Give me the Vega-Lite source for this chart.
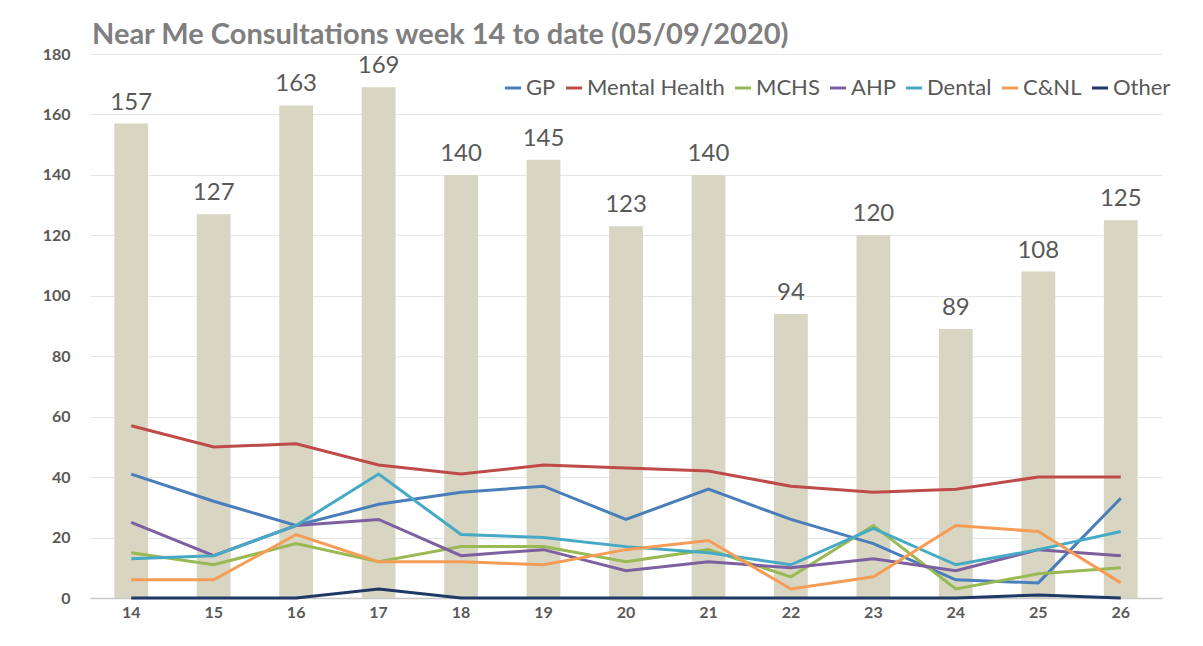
{
  "$schema": "https://vega.github.io/schema/vega-lite/v6.json",
  "autosize": {"type": "none"},
  "width": 1072,
  "height": 544,
  "padding": {"left": 90, "top": 54, "right": 41, "bottom": 48},
  "background": "white",
  "title": {
    "text": "Near Me Consultations week 14 to date (05/09/2020)",
    "anchor": "start",
    "frame": "group",
    "orient": "top",
    "offset": 8,
    "dx": 2,
    "dy": 12,
    "font": "Lato",
    "fontSize": 29,
    "fontWeight": "bold",
    "color": "#7f7f7f"
  },
  "config": {
    "view": {"stroke": null},
    "font": "Lato"
  },
  "datasets": {
    "totals": [
      {"week": "14", "total": 157}, {"week": "15", "total": 127}, {"week": "16", "total": 163},
      {"week": "17", "total": 169}, {"week": "18", "total": 140}, {"week": "19", "total": 145},
      {"week": "20", "total": 123}, {"week": "21", "total": 140}, {"week": "22", "total": 94},
      {"week": "23", "total": 120}, {"week": "24", "total": 89}, {"week": "25", "total": 108},
      {"week": "26", "total": 125}
    ],
    "series": [
      {"week": "14", "service": "GP", "value": 41}, {"week": "15", "service": "GP", "value": 32},
      {"week": "16", "service": "GP", "value": 24}, {"week": "17", "service": "GP", "value": 31},
      {"week": "18", "service": "GP", "value": 35}, {"week": "19", "service": "GP", "value": 37},
      {"week": "20", "service": "GP", "value": 26}, {"week": "21", "service": "GP", "value": 36},
      {"week": "22", "service": "GP", "value": 26}, {"week": "23", "service": "GP", "value": 18},
      {"week": "24", "service": "GP", "value": 6}, {"week": "25", "service": "GP", "value": 5},
      {"week": "26", "service": "GP", "value": 33},
      {"week": "14", "service": "Mental Health", "value": 57}, {"week": "15", "service": "Mental Health", "value": 50},
      {"week": "16", "service": "Mental Health", "value": 51}, {"week": "17", "service": "Mental Health", "value": 44},
      {"week": "18", "service": "Mental Health", "value": 41}, {"week": "19", "service": "Mental Health", "value": 44},
      {"week": "20", "service": "Mental Health", "value": 43}, {"week": "21", "service": "Mental Health", "value": 42},
      {"week": "22", "service": "Mental Health", "value": 37}, {"week": "23", "service": "Mental Health", "value": 35},
      {"week": "24", "service": "Mental Health", "value": 36}, {"week": "25", "service": "Mental Health", "value": 40},
      {"week": "26", "service": "Mental Health", "value": 40},
      {"week": "14", "service": "MCHS", "value": 15}, {"week": "15", "service": "MCHS", "value": 11},
      {"week": "16", "service": "MCHS", "value": 18}, {"week": "17", "service": "MCHS", "value": 12},
      {"week": "18", "service": "MCHS", "value": 17}, {"week": "19", "service": "MCHS", "value": 17},
      {"week": "20", "service": "MCHS", "value": 12}, {"week": "21", "service": "MCHS", "value": 16},
      {"week": "22", "service": "MCHS", "value": 7}, {"week": "23", "service": "MCHS", "value": 24},
      {"week": "24", "service": "MCHS", "value": 3}, {"week": "25", "service": "MCHS", "value": 8},
      {"week": "26", "service": "MCHS", "value": 10},
      {"week": "14", "service": "AHP", "value": 25}, {"week": "15", "service": "AHP", "value": 14},
      {"week": "16", "service": "AHP", "value": 24}, {"week": "17", "service": "AHP", "value": 26},
      {"week": "18", "service": "AHP", "value": 14}, {"week": "19", "service": "AHP", "value": 16},
      {"week": "20", "service": "AHP", "value": 9}, {"week": "21", "service": "AHP", "value": 12},
      {"week": "22", "service": "AHP", "value": 10}, {"week": "23", "service": "AHP", "value": 13},
      {"week": "24", "service": "AHP", "value": 9}, {"week": "25", "service": "AHP", "value": 16},
      {"week": "26", "service": "AHP", "value": 14},
      {"week": "14", "service": "Dental", "value": 13}, {"week": "15", "service": "Dental", "value": 14},
      {"week": "16", "service": "Dental", "value": 24}, {"week": "17", "service": "Dental", "value": 41},
      {"week": "18", "service": "Dental", "value": 21}, {"week": "19", "service": "Dental", "value": 20},
      {"week": "20", "service": "Dental", "value": 17}, {"week": "21", "service": "Dental", "value": 15},
      {"week": "22", "service": "Dental", "value": 11}, {"week": "23", "service": "Dental", "value": 23},
      {"week": "24", "service": "Dental", "value": 11}, {"week": "25", "service": "Dental", "value": 16},
      {"week": "26", "service": "Dental", "value": 22},
      {"week": "14", "service": "C&NL", "value": 6}, {"week": "15", "service": "C&NL", "value": 6},
      {"week": "16", "service": "C&NL", "value": 21}, {"week": "17", "service": "C&NL", "value": 12},
      {"week": "18", "service": "C&NL", "value": 12}, {"week": "19", "service": "C&NL", "value": 11},
      {"week": "20", "service": "C&NL", "value": 16}, {"week": "21", "service": "C&NL", "value": 19},
      {"week": "22", "service": "C&NL", "value": 3}, {"week": "23", "service": "C&NL", "value": 7},
      {"week": "24", "service": "C&NL", "value": 24}, {"week": "25", "service": "C&NL", "value": 22},
      {"week": "26", "service": "C&NL", "value": 5},
      {"week": "14", "service": "Other", "value": 0}, {"week": "15", "service": "Other", "value": 0},
      {"week": "16", "service": "Other", "value": 0}, {"week": "17", "service": "Other", "value": 3},
      {"week": "18", "service": "Other", "value": 0}, {"week": "19", "service": "Other", "value": 0},
      {"week": "20", "service": "Other", "value": 0}, {"week": "21", "service": "Other", "value": 0},
      {"week": "22", "service": "Other", "value": 0}, {"week": "23", "service": "Other", "value": 0},
      {"week": "24", "service": "Other", "value": 0}, {"week": "25", "service": "Other", "value": 1},
      {"week": "26", "service": "Other", "value": 0}
    ]
  },
  "encoding": {
    "x": {
      "field": "week",
      "type": "ordinal",
      "scale": {"paddingInner": 0.59, "paddingOuter": 0.295},
      "axis": {
        "title": null,
        "labelAngle": 0,
        "labelFont": "Lato",
        "labelFontSize": 16,
        "labelFontWeight": "bold",
        "labelColor": "#595959",
        "labelPadding": 6,
        "ticks": false,
        "domain": true,
        "domainColor": "#c8c8c8",
        "domainWidth": 1.5
      }
    }
  },
  "layer": [
    {
      "data": {"name": "totals"},
      "mark": {"type": "bar", "color": "#d8d6c3"},
      "encoding": {
        "y": {
          "field": "total",
          "type": "quantitative",
          "scale": {"domain": [0, 180], "nice": false},
          "axis": {
            "title": null,
            "values": [0, 20, 40, 60, 80, 100, 120, 140, 160, 180],
            "labelFont": "Lato",
            "labelFontSize": 16,
            "labelFontWeight": "bold",
            "labelColor": "#595959",
            "labelPadding": 20,
            "ticks": false,
            "domain": false,
            "grid": true,
            "gridColor": "#e6e6e6",
            "gridWidth": 1
          }
        }
      }
    },
    {
      "data": {"name": "totals"},
      "mark": {"type": "text", "dy": -14, "baseline": "alphabetic", "font": "Lato", "fontSize": 24, "color": "#595959"},
      "encoding": {
        "y": {"field": "total", "type": "quantitative"},
        "text": {"field": "total", "type": "quantitative"}
      }
    },
    {
      "data": {"name": "series"},
      "mark": {"type": "line", "strokeWidth": 3},
      "encoding": {
        "y": {"field": "value", "type": "quantitative"},
        "color": {
          "field": "service",
          "type": "nominal",
          "scale": {
            "domain": ["GP", "Mental Health", "MCHS", "AHP", "Dental", "C&NL", "Other"],
            "range": ["#4a7ebb", "#be4b48", "#98b954", "#7d60a0", "#46aac5", "#f59d56", "#1f3864"]
          },
          "legend": {
            "title": null,
            "orient": "none",
            "legendX": 412,
            "legendY": 23,
            "direction": "horizontal",
            "columns": 7,
            "columnPadding": 3,
            "symbolType": "stroke",
            "symbolStrokeWidth": 3,
            "symbolSize": 260,
            "symbolOffset": 0,
            "labelOffset": 2,
            "labelFont": "Lato",
            "labelFontSize": 22,
            "labelColor": "#595959"
          }
        }
      }
    }
  ]
}
